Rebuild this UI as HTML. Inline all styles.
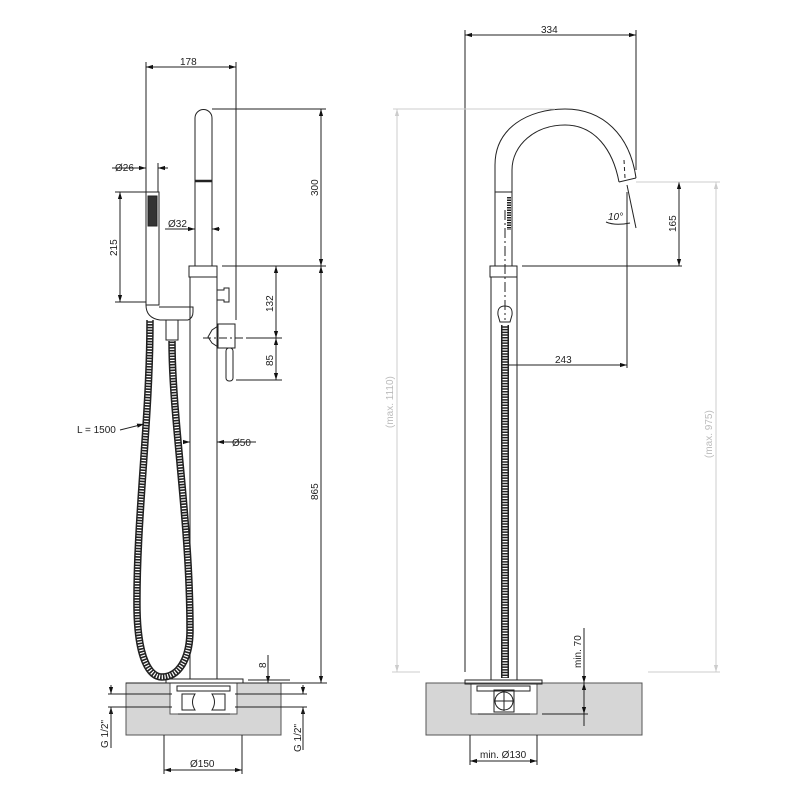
<!DOCTYPE html>
<html><head><meta charset="utf-8"><style>
html,body{margin:0;padding:0;background:#fff}
svg{display:block}
text{font-family:"Liberation Sans",sans-serif;font-size:10px;fill:#222}
.g text{fill:#bbb}
</style></head><body>
<svg width="800" height="800" viewBox="0 0 800 800" xmlns="http://www.w3.org/2000/svg">
<defs>
<marker id="a" viewBox="0 0 10 10" refX="10" refY="5" markerWidth="7" markerHeight="7" orient="auto-start-reverse"><path d="M0,2 L10,5 L0,8 z" fill="#111"/></marker>
<marker id="ag" viewBox="0 0 10 10" refX="10" refY="5" markerWidth="7" markerHeight="7" orient="auto-start-reverse"><path d="M0,2 L10,5 L0,8 z" fill="#ccc"/></marker>
</defs>

<rect x="126" y="683" width="155" height="52" fill="#d6d6d6" stroke="#555" stroke-width="1"/>
<rect x="170" y="683" width="67" height="31" fill="#fff" stroke="#555" stroke-width="1"/>
<rect x="426" y="683" width="216" height="52" fill="#d6d6d6" stroke="#555" stroke-width="1"/>
<rect x="471" y="683" width="66" height="31" fill="#fff" stroke="#555" stroke-width="1"/>

<g fill="none" stroke="#222" stroke-width="1">
<line x1="190" y1="277" x2="190" y2="679"/><line x1="217" y1="277" x2="217" y2="679"/>
<rect x="189" y="266" width="28" height="11"/>
<path d="M195,266 L195,118 A8.5,8.5 0 0 1 212,118 L212,266"/>
<line x1="195" y1="181" x2="212" y2="181" stroke-width="2.5"/>
<path d="M217,290 L224,290 L224,288 L229,288 L229,302 L224,302 L224,300 L217,300"/>
<rect x="218" y="324" width="17" height="24"/>
<path d="M218,326 L212,330 L208,337 L212,343 L218,347"/>
<rect x="226" y="348" width="7" height="33" rx="3"/>
<line x1="203" y1="338" x2="250" y2="338" stroke-dasharray="8,3,2,3"/>
<rect x="146" y="192" width="13" height="113"/>
<rect x="148" y="196" width="9" height="30" fill="#333"/>
<path d="M146,305 Q146,318 160,320 L188,320 Q193,318 193,312 L193,307 L159,307"/>
<rect x="166" y="320" width="12" height="20"/>
<path d="M150,320 C150,420 136,520 137,610 C138,660 150,677 162,677 C178,677 190,660 190,630 C190,520 172,420 172,341" stroke="#222" stroke-width="7.5"/>
<path d="M150,320 C150,420 136,520 137,610 C138,660 150,677 162,677 C178,677 190,660 190,630 C190,520 172,420 172,341" stroke="#fff" stroke-width="4.5" stroke-dasharray="1.2,1.6"/>
<rect x="166" y="679" width="77" height="4"/>
<rect x="177" y="686" width="53" height="5"/>
<path d="M182,694 L195,694 Q190,702 195,710 L182,710 Z"/>
<path d="M225,694 L212,694 Q217,702 212,710 L225,710 Z"/>
<line x1="178" y1="714" x2="230" y2="714"/>
<line x1="126" y1="683" x2="327" y2="683"/>

<line x1="146" y1="62" x2="146" y2="192"/><line x1="236" y1="62" x2="236" y2="320"/>
<line x1="146" y1="67" x2="236" y2="67" marker-start="url(#a)" marker-end="url(#a)"/>
<line x1="212" y1="109" x2="326" y2="109"/><line x1="222" y1="266" x2="326" y2="266"/>
<line x1="321" y1="109" x2="321" y2="266" marker-start="url(#a)" marker-end="url(#a)"/>
<line x1="321" y1="266" x2="321" y2="683" marker-start="url(#a)" marker-end="url(#a)"/>
<line x1="276" y1="266" x2="276" y2="338" marker-start="url(#a)" marker-end="url(#a)"/>
<line x1="276" y1="338" x2="276" y2="380" marker-start="url(#a)" marker-end="url(#a)"/>
<line x1="246" y1="338" x2="282" y2="338"/><line x1="236" y1="380" x2="282" y2="380"/>
<line x1="146" y1="160" x2="146" y2="192"/><line x1="158" y1="163" x2="158" y2="192"/>
<line x1="112" y1="168" x2="146" y2="168" marker-end="url(#a)"/><line x1="168" y1="168" x2="158" y2="168" marker-end="url(#a)"/>
<line x1="115" y1="192" x2="146" y2="192"/><line x1="115" y1="302" x2="146" y2="302"/>
<line x1="120" y1="192" x2="120" y2="302" marker-start="url(#a)" marker-end="url(#a)"/>
<line x1="165" y1="229" x2="195" y2="229" marker-end="url(#a)"/><line x1="220" y1="229" x2="212" y2="229" marker-end="url(#a)"/>
<line x1="183" y1="442" x2="190" y2="442" marker-end="url(#a)"/><line x1="256" y1="442" x2="217" y2="442" marker-end="url(#a)"/>
<line x1="120" y1="430" x2="144" y2="424" marker-end="url(#a)"/>
<line x1="268" y1="655" x2="268" y2="683" marker-end="url(#a)"/><line x1="248" y1="680" x2="290" y2="680"/>
<line x1="108" y1="694" x2="172" y2="694"/><line x1="108" y1="707" x2="172" y2="707"/>
<line x1="111" y1="685" x2="111" y2="694" marker-end="url(#a)"/><line x1="111" y1="716" x2="111" y2="707" marker-end="url(#a)"/><line x1="111" y1="707" x2="111" y2="748"/>
<line x1="235" y1="694" x2="307" y2="694"/><line x1="235" y1="707" x2="307" y2="707"/>
<line x1="303" y1="685" x2="303" y2="694" marker-end="url(#a)"/><line x1="303" y1="716" x2="303" y2="707" marker-end="url(#a)"/><line x1="303" y1="707" x2="303" y2="750"/>
<line x1="164" y1="735" x2="164" y2="774"/><line x1="242" y1="735" x2="242" y2="774"/>
<line x1="164" y1="770" x2="242" y2="770" marker-start="url(#a)" marker-end="url(#a)"/>

<path d="M495,192 L495,165 C495,128 528,109 565,109 C603,109 630,135 636,178"/>
<path d="M512,192 L512,170 C512,145 535,125 565,125 C595,125 613,150 619,182"/>
<line x1="619" y1="182" x2="636" y2="178"/>
<line x1="624" y1="160" x2="625" y2="178" stroke-dasharray="4,3"/>
<line x1="495" y1="192" x2="495" y2="266"/><line x1="512" y1="192" x2="512" y2="266"/>
<line x1="495" y1="192" x2="512" y2="192"/>
<line x1="509" y1="197" x2="509" y2="230" stroke-width="4" stroke-dasharray="1.5,1"/>
<rect x="490" y="266" width="27" height="11"/>
<line x1="491" y1="277" x2="491" y2="680"/><line x1="517" y1="277" x2="517" y2="680"/>
<line x1="505" y1="210" x2="505" y2="320" stroke-dasharray="10,3,2,3"/>
<path d="M498,315 Q497,306 505,306 Q513,306 512,315 L510,322 L500,322 Z"/>
<line x1="505" y1="325" x2="505" y2="678" stroke-width="8"/>
<line x1="505" y1="325" x2="505" y2="678" stroke="#fff" stroke-width="5" stroke-dasharray="1.2,1.5"/>
<line x1="465" y1="30" x2="465" y2="672"/><line x1="636" y1="30" x2="636" y2="170"/>
<line x1="465" y1="35" x2="636" y2="35" marker-start="url(#a)" marker-end="url(#a)"/>
<line x1="627" y1="192" x2="627" y2="368"/><line x1="627" y1="185" x2="636" y2="228"/>
<path d="M606,222 Q615,226 630,223"/>
<line x1="508" y1="365" x2="627" y2="365" marker-end="url(#a)"/>
<line x1="522" y1="266" x2="682" y2="266"/>
<line x1="679" y1="182" x2="679" y2="266" marker-start="url(#a)" marker-end="url(#a)"/>
<rect x="465" y="680" width="77" height="4"/>
<rect x="477" y="686" width="53" height="5"/>
<rect x="494" y="690" width="20" height="22"/>
<circle cx="504" cy="701" r="9"/>
<line x1="494" y1="701" x2="514" y2="701"/><line x1="504" y1="691" x2="504" y2="711"/>
<line x1="478" y1="714" x2="530" y2="714"/>
<line x1="542" y1="714" x2="588" y2="714"/>
<line x1="584" y1="628" x2="584" y2="683" marker-end="url(#a)"/>
<line x1="584" y1="683" x2="584" y2="714" marker-start="url(#a)" marker-end="url(#a)"/>
<line x1="584" y1="714" x2="584" y2="726"/>
<line x1="470" y1="735" x2="470" y2="765"/><line x1="537" y1="735" x2="537" y2="765"/>
<line x1="470" y1="761" x2="537" y2="761" marker-start="url(#a)" marker-end="url(#a)"/>
</g>

<g fill="none" stroke="#ccc" stroke-width="1">
<line x1="393" y1="109" x2="555" y2="109"/>
<line x1="397" y1="109" x2="397" y2="672" marker-start="url(#ag)" marker-end="url(#ag)"/>
<line x1="392" y1="672" x2="420" y2="672"/>
<line x1="636" y1="182" x2="720" y2="182"/>
<line x1="716" y1="182" x2="716" y2="672" marker-start="url(#ag)" marker-end="url(#ag)"/>
<line x1="648" y1="672" x2="720" y2="672"/>
</g>

<text x="180" y="65">178</text>
<text x="115" y="171">Ø26</text>
<text x="168" y="227">Ø32</text>
<text x="232" y="446">Ø50</text>
<text x="77" y="433">L = 1500</text>
<text x="190" y="767">Ø150</text>
<text transform="translate(318,196) rotate(-90)">300</text>
<text transform="translate(318,500) rotate(-90)">865</text>
<text transform="translate(273,312) rotate(-90)">132</text>
<text transform="translate(273,366) rotate(-90)">85</text>
<text transform="translate(117,256) rotate(-90)">215</text>
<text transform="translate(266,668) rotate(-90)">8</text>
<text transform="translate(108,748) rotate(-90)">G 1/2"</text>
<text transform="translate(301,752) rotate(-90)">G 1/2"</text>
<text x="541" y="33">334</text>
<text x="555" y="363">243</text>
<text transform="translate(676,232) rotate(-90)">165</text>
<text x="608" y="220" font-style="italic">10°</text>
<text transform="translate(581,668) rotate(-90)">min. 70</text>
<text x="480" y="758">min. Ø130</text>
<g class="g">
<text transform="translate(393,428) rotate(-90)">(max. 1110)</text>
<text transform="translate(712,458) rotate(-90)">(max. 975)</text>
</g>
</svg>
</body></html>
